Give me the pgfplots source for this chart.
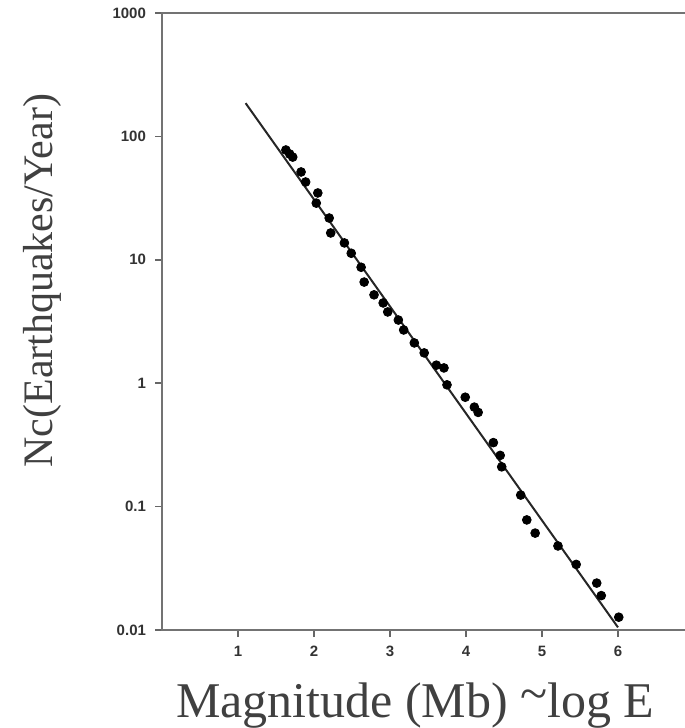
\documentclass[border=0pt]{standalone}
\usepackage{fontspec}
\setmainfont{Liberation Serif}
\newfontfamily\arialfont{Liberation Sans}
\usepackage{pgfplots}
\pgfplotsset{compat=1.18}
\begin{document}
\begin{tikzpicture}
\useasboundingbox (0pt,0pt) rectangle (342.5pt,364pt);
\begin{axis}[
  at={(81pt,49pt)}, anchor=south west,
  scale only axis, width=266pt, height=308.5pt,
  xmin=0, xmax=7,
  ymode=log, ymin=0.01, ymax=1000,
  xtick={1,2,3,4,5,6},
  ytick={0.01,0.1,1,10,100,1000},
  yticklabels={0.01,0.1,1,10,100,1000},
  yminorticks=false,
  /pgf/number format/assume math mode=true,
  tick align=outside, xtick pos=bottom, ytick pos=left,
  major tick length=3.5pt,
  tick style={black!60, line width=0.8pt},
  axis line style={black!55, line width=1.3pt},
  ticklabel style={font=\arialfont\bfseries\fontsize{7.5}{8}\selectfont, text=black!80},
  xticklabel style={yshift=-1pt},
  yticklabel style={xshift=-1pt},
  xlabel={Magnitude (Mb) \raisebox{0.15em}{\char`\~}log E},
  ylabel={Nc(Earthquakes/Year)},
  every axis x label/.style={at={(axis description cs:0.476,-0.1426)}, anchor=base, font=\fontsize{25}{28}\selectfont, text=black!75},
  every axis y label/.style={at={(axis description cs:-0.2256,0.566)}, rotate=90, anchor=center, font=\fontsize{21}{24}\selectfont, text=black!75},
  clip=false,
]
\addplot[black!85, line width=1pt] coordinates {(1.10,186) (6.00,0.0105)};
\addplot[only marks, mark=*, mark size=2.2pt, black] coordinates {
(1.63,77.6) (1.68,72) (1.72,68) (1.83,51.5) (1.89,42.7) (2.05,34.8) (2.03,28.8)
(2.20,21.8) (2.22,16.5) (2.40,13.7) (2.49,11.3) (2.62,8.7) (2.66,6.6)
(2.79,5.2) (2.91,4.47) (2.97,3.78) (3.11,3.25) (3.18,2.70) (3.32,2.12)
(3.45,1.76) (3.61,1.40) (3.71,1.33) (3.75,0.97) (3.99,0.77) (4.11,0.64)
(4.16,0.58) (4.36,0.33) (4.45,0.26) (4.47,0.21) (4.72,0.124) (4.80,0.078)
(4.91,0.061) (5.21,0.048) (5.45,0.034) (5.72,0.024) (5.78,0.019) (6.01,0.0127)
};
\end{axis}
\end{tikzpicture}
\end{document}
